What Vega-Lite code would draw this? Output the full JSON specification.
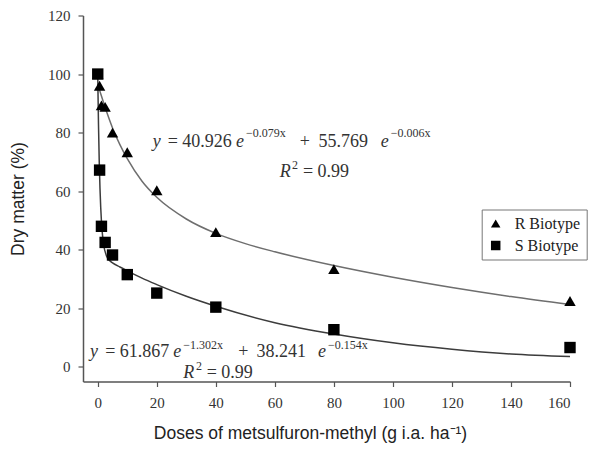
{
  "$schema": "https://vega.github.io/schema/vega-lite/v6.json",
  "width": 487,
  "height": 366,
  "autosize": {"type": "none"},
  "padding": {"left": 83, "top": 15.5, "right": 35, "bottom": 71.5},
  "background": "white",
  "config": {
    "view": {"stroke": null},
    "axis": {
      "grid": false,
      "domainColor": "#555555",
      "domainWidth": 1.5,
      "tickColor": "#555555",
      "tickSize": 5,
      "tickWidth": 1.2,
      "labelFont": "Liberation Serif",
      "labelFontSize": 15,
      "labelColor": "#333333",
      "titleFont": "Liberation Sans",
      "titleFontSize": 17.5,
      "titleFontWeight": "normal",
      "titleColor": "#222222"
    }
  },
  "datasets": {
    "points": [
      {"x": 0, "y": 100, "series": "R Biotype"},
      {"x": 0.625, "y": 96, "series": "R Biotype"},
      {"x": 1.25, "y": 89.3, "series": "R Biotype"},
      {"x": 2.5, "y": 88.8, "series": "R Biotype"},
      {"x": 5, "y": 80, "series": "R Biotype"},
      {"x": 10, "y": 73.3, "series": "R Biotype"},
      {"x": 20, "y": 60.3, "series": "R Biotype"},
      {"x": 40, "y": 46, "series": "R Biotype"},
      {"x": 80, "y": 33.4, "series": "R Biotype"},
      {"x": 160, "y": 22.5, "series": "R Biotype"},
      {"x": 0, "y": 100, "series": "S Biotype"},
      {"x": 0.625, "y": 67.2, "series": "S Biotype"},
      {"x": 1.25, "y": 48, "series": "S Biotype"},
      {"x": 2.5, "y": 42.5, "series": "S Biotype"},
      {"x": 5, "y": 38.2, "series": "S Biotype"},
      {"x": 10, "y": 31.5, "series": "S Biotype"},
      {"x": 20, "y": 25.2, "series": "S Biotype"},
      {"x": 40, "y": 20.4, "series": "S Biotype"},
      {"x": 80, "y": 12.7, "series": "S Biotype"},
      {"x": 160, "y": 6.6, "series": "S Biotype"}
    ],
    "curves": [
      {"x": 0, "y": 96.7, "series": "R"},
      {"x": 0.5, "y": 94.9, "series": "R"},
      {"x": 1, "y": 93.3, "series": "R"},
      {"x": 2, "y": 90.1, "series": "R"},
      {"x": 3, "y": 87.1, "series": "R"},
      {"x": 5, "y": 81.6, "series": "R"},
      {"x": 7.5, "y": 75.9, "series": "R"},
      {"x": 10, "y": 71.1, "series": "R"},
      {"x": 15, "y": 63.4, "series": "R"},
      {"x": 20, "y": 57.9, "series": "R"},
      {"x": 30, "y": 50.5, "series": "R"},
      {"x": 40, "y": 45.6, "series": "R"},
      {"x": 50, "y": 42.1, "series": "R"},
      {"x": 60, "y": 39.3, "series": "R"},
      {"x": 80, "y": 34.6, "series": "R"},
      {"x": 100, "y": 30.6, "series": "R"},
      {"x": 120, "y": 27.1, "series": "R"},
      {"x": 140, "y": 24.0, "series": "R"},
      {"x": 160, "y": 21.3, "series": "R"},
      {"x": 0, "y": 100, "series": "S"},
      {"x": 0.1, "y": 92.5, "series": "S"},
      {"x": 0.25, "y": 82.8, "series": "S"},
      {"x": 0.5, "y": 70.2, "series": "S"},
      {"x": 0.75, "y": 61.1, "series": "S"},
      {"x": 1, "y": 54.5, "series": "S"},
      {"x": 1.5, "y": 46.2, "series": "S"},
      {"x": 2, "y": 41.7, "series": "S"},
      {"x": 3, "y": 37.8, "series": "S"},
      {"x": 4, "y": 36.3, "series": "S"},
      {"x": 5, "y": 35.5, "series": "S"},
      {"x": 7.5, "y": 34.1, "series": "S"},
      {"x": 10, "y": 32.8, "series": "S"},
      {"x": 15, "y": 30.3, "series": "S"},
      {"x": 20, "y": 28.1, "series": "S"},
      {"x": 30, "y": 24.1, "series": "S"},
      {"x": 40, "y": 20.7, "series": "S"},
      {"x": 60, "y": 15.1, "series": "S"},
      {"x": 80, "y": 11.2, "series": "S"},
      {"x": 100, "y": 8.2, "series": "S"},
      {"x": 120, "y": 6.0, "series": "S"},
      {"x": 140, "y": 4.4, "series": "S"},
      {"x": 160, "y": 3.5, "series": "S"}
    ],
    "textMain": [
      {"x": 23.7, "y": 76.8, "t": "= 40.926"},
      {"x": 68.4, "y": 76.8, "t": "+"},
      {"x": 74.8, "y": 76.8, "t": "55.769"},
      {"x": 69.5, "y": 66.7, "t": "= 0.99"},
      {"x": 2.5, "y": 5.2, "t": "= 61.867"},
      {"x": 47.6, "y": 5.2, "t": "+"},
      {"x": 53.8, "y": 5.2, "t": "38.241"},
      {"x": 36.9, "y": -2.0, "t": "= 0.99"}
    ],
    "textItalic": [
      {"x": 18.6, "y": 76.8, "t": "y"},
      {"x": 46.8, "y": 76.8, "t": "e"},
      {"x": 95.9, "y": 76.8, "t": "e"},
      {"x": 61.7, "y": 66.7, "t": "R"},
      {"x": -2.6, "y": 5.2, "t": "y"},
      {"x": 25.6, "y": 5.2, "t": "e"},
      {"x": 74.6, "y": 5.2, "t": "e"},
      {"x": 29.0, "y": -2.0, "t": "R"}
    ],
    "textSup": [
      {"x": 50.2, "y": 79.9, "t": "−0.079x"},
      {"x": 99.3, "y": 79.9, "t": "−0.006x"},
      {"x": 65.8, "y": 68.9, "t": "2"},
      {"x": 29.0, "y": 7.5, "t": "−1.302x"},
      {"x": 78.0, "y": 7.5, "t": "−0.154x"},
      {"x": 33.3, "y": 0.2, "t": "2"}
    ]
  },
  "encoding": {
    "x": {
      "field": "x",
      "type": "quantitative",
      "scale": {"domain": [-5, 160], "nice": false, "zero": false},
      "axis": {
        "values": [0, 20, 40, 60, 80, 100, 120, 140, 160],
        "labelPadding": 9,
        "title": "Doses of metsulfuron-methyl (g i.a. ha⁻¹)",
        "titleX": 227,
        "titleY": 52,
        "titleAlign": "center",
        "titleBaseline": "middle"
      }
    },
    "y": {
      "field": "y",
      "type": "quantitative",
      "scale": {"domain": [-5, 120], "nice": false, "zero": false},
      "axis": {
        "values": [0, 20, 40, 60, 80, 100, 120],
        "labelPadding": 8,
        "title": "Dry matter (%)",
        "titleX": -65,
        "titleY": 183,
        "titleAngle": -90,
        "titleAlign": "center",
        "titleBaseline": "middle"
      }
    }
  },
  "layer": [
    {
      "data": {"name": "curves"},
      "mark": {"type": "line", "interpolate": "monotone", "strokeWidth": 1.5},
      "encoding": {
        "detail": {"field": "series"},
        "stroke": {
          "field": "series",
          "type": "nominal",
          "scale": {"domain": ["R", "S"], "range": ["#6e6e6e", "#3c3c3c"]},
          "legend": null
        }
      }
    },
    {
      "data": {"name": "points"},
      "mark": {"type": "point", "filled": true, "opacity": 1, "color": "black", "size": 130},
      "encoding": {
        "shape": {
          "field": "series",
          "type": "nominal",
          "scale": {"domain": ["R Biotype", "S Biotype"], "range": ["triangle-up", "square"]},
          "legend": {
            "title": null,
            "orient": "none",
            "legendX": 398.7,
            "legendY": 194,
            "strokeColor": "#777777",
            "padding": 6,
            "labelFont": "Liberation Serif",
            "labelFontSize": 16,
            "labelColor": "#222222",
            "labelOffset": 11,
            "rowPadding": 6,
            "symbolSize": 90,
            "symbolFillColor": "black",
            "symbolStrokeColor": "black",
            "symbolStrokeWidth": 0
          }
        }
      }
    },
    {
      "data": {"name": "textMain"},
      "mark": {"type": "text", "font": "Liberation Serif", "fontSize": 18, "align": "left", "baseline": "middle", "color": "#333333"},
      "encoding": {"text": {"field": "t"}}
    },
    {
      "data": {"name": "textItalic"},
      "mark": {"type": "text", "font": "Liberation Serif", "fontStyle": "italic", "fontSize": 18, "align": "left", "baseline": "middle", "color": "#333333"},
      "encoding": {"text": {"field": "t"}}
    },
    {
      "data": {"name": "textSup"},
      "mark": {"type": "text", "font": "Liberation Serif", "fontSize": 12, "align": "left", "baseline": "middle", "color": "#333333"},
      "encoding": {"text": {"field": "t"}}
    }
  ]
}
